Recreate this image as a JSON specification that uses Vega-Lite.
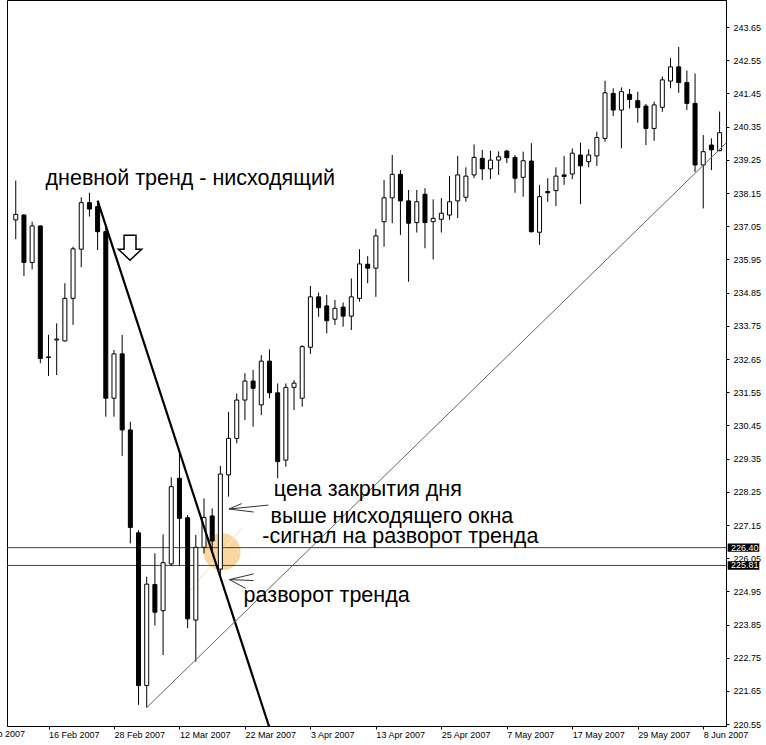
{
  "$schema": "https://vega.github.io/schema/vega-lite/v6.json",
  "width": 719,
  "height": 726,
  "autosize": {"type": "none"},
  "padding": {"left": 7, "top": 0, "right": 40, "bottom": 19},
  "background": "white",
  "config": {
    "view": {"stroke": "#000000", "strokeWidth": 1},
    "font": "Liberation Sans",
    "axis": {"labelFont": "Liberation Sans", "labelFontSize": 9, "labelColor": "#000000", "domainColor": "#000000", "tickColor": "#000000", "grid": false, "domainWidth": 1, "tickWidth": 1}
  },
  "datasets": {
    "candles": [
      {"d":"2007-02-12","i":-4,"o":237.26,"h":238.56,"l":236.62,"c":237.44},
      {"d":"2007-02-13","i":-3,"o":237.42,"h":237.45,"l":235.40,"c":235.85},
      {"d":"2007-02-14","i":-2,"o":235.85,"h":237.20,"l":235.62,"c":237.06},
      {"d":"2007-02-15","i":-1,"o":237.06,"h":237.08,"l":232.51,"c":232.67},
      {"d":"2007-02-16","i":0,"o":232.70,"h":233.45,"l":232.09,"c":232.72},
      {"d":"2007-02-19","i":1,"o":233.28,"h":233.83,"l":232.12,"c":233.31},
      {"d":"2007-02-20","i":2,"o":233.25,"h":235.16,"l":233.23,"c":234.66},
      {"d":"2007-02-21","i":3,"o":234.66,"h":236.37,"l":233.78,"c":236.30},
      {"d":"2007-02-22","i":4,"o":236.29,"h":238.01,"l":235.69,"c":237.83},
      {"d":"2007-02-23","i":5,"o":237.83,"h":238.16,"l":237.37,"c":237.62},
      {"d":"2007-02-26","i":6,"o":237.70,"h":237.86,"l":236.26,"c":236.87},
      {"d":"2007-02-27","i":7,"o":236.87,"h":237.03,"l":230.74,"c":231.35},
      {"d":"2007-02-28","i":8,"o":231.35,"h":232.95,"l":230.74,"c":232.82},
      {"d":"2007-03-01","i":9,"o":232.82,"h":233.45,"l":229.44,"c":230.30},
      {"d":"2007-03-02","i":10,"o":230.30,"h":230.57,"l":226.54,"c":227.07},
      {"d":"2007-03-05","i":11,"o":226.89,"h":226.98,"l":221.19,"c":221.83},
      {"d":"2007-03-06","i":12,"o":221.83,"h":225.44,"l":221.10,"c":225.19},
      {"d":"2007-03-07","i":13,"o":225.18,"h":226.21,"l":223.82,"c":224.26},
      {"d":"2007-03-08","i":14,"o":224.31,"h":226.84,"l":222.84,"c":225.90},
      {"d":"2007-03-09","i":15,"o":225.86,"h":228.73,"l":225.80,"c":228.42},
      {"d":"2007-03-12","i":16,"o":228.70,"h":229.53,"l":225.79,"c":227.37},
      {"d":"2007-03-13","i":17,"o":227.39,"h":227.48,"l":223.73,"c":224.04},
      {"d":"2007-03-14","i":18,"o":224.00,"h":226.82,"l":222.62,"c":226.41},
      {"d":"2007-03-15","i":19,"o":226.41,"h":228.03,"l":226.21,"c":227.40},
      {"d":"2007-03-16","i":20,"o":227.45,"h":227.70,"l":226.32,"c":226.62},
      {"d":"2007-03-19","i":21,"o":225.69,"h":229.11,"l":225.49,"c":228.84},
      {"d":"2007-03-20","i":22,"o":228.81,"h":230.90,"l":228.09,"c":230.02},
      {"d":"2007-03-21","i":23,"o":230.02,"h":231.51,"l":229.86,"c":231.29},
      {"d":"2007-03-22","i":24,"o":231.29,"h":232.18,"l":230.63,"c":231.92},
      {"d":"2007-03-23","i":25,"o":231.92,"h":232.29,"l":230.41,"c":231.68},
      {"d":"2007-03-26","i":26,"o":231.13,"h":232.78,"l":230.79,"c":232.58},
      {"d":"2007-03-27","i":27,"o":232.58,"h":232.97,"l":231.35,"c":231.53},
      {"d":"2007-03-28","i":28,"o":231.53,"h":231.84,"l":228.70,"c":229.25},
      {"d":"2007-03-29","i":29,"o":229.30,"h":231.84,"l":229.08,"c":231.71},
      {"d":"2007-03-30","i":30,"o":231.71,"h":231.95,"l":230.96,"c":231.85},
      {"d":"2007-04-02","i":31,"o":231.35,"h":233.11,"l":231.07,"c":233.06},
      {"d":"2007-04-03","i":32,"o":233.04,"h":235.07,"l":232.82,"c":234.71},
      {"d":"2007-04-04","i":33,"o":234.71,"h":234.85,"l":234.05,"c":234.35},
      {"d":"2007-04-05","i":34,"o":234.41,"h":234.77,"l":233.50,"c":233.92},
      {"d":"2007-04-06","i":35,"o":233.97,"h":234.61,"l":233.78,"c":234.33},
      {"d":"2007-04-09","i":36,"o":234.37,"h":234.52,"l":233.72,"c":234.07},
      {"d":"2007-04-10","i":37,"o":234.07,"h":235.32,"l":233.61,"c":234.71},
      {"d":"2007-04-11","i":38,"o":234.66,"h":236.29,"l":234.55,"c":235.80},
      {"d":"2007-04-12","i":39,"o":235.79,"h":236.06,"l":235.16,"c":235.66},
      {"d":"2007-04-13","i":40,"o":235.66,"h":236.96,"l":234.71,"c":236.73},
      {"d":"2007-04-16","i":41,"o":237.20,"h":238.58,"l":236.37,"c":237.99},
      {"d":"2007-04-17","i":42,"o":237.99,"h":239.41,"l":237.15,"c":238.77},
      {"d":"2007-04-18","i":43,"o":238.77,"h":238.91,"l":236.76,"c":237.89},
      {"d":"2007-04-19","i":44,"o":237.89,"h":238.25,"l":235.21,"c":237.15},
      {"d":"2007-04-20","i":45,"o":237.17,"h":238.25,"l":236.84,"c":237.86},
      {"d":"2007-04-23","i":46,"o":238.11,"h":238.31,"l":236.32,"c":237.17},
      {"d":"2007-04-24","i":47,"o":237.20,"h":237.94,"l":235.95,"c":237.31},
      {"d":"2007-04-25","i":48,"o":237.28,"h":237.98,"l":236.84,"c":237.48},
      {"d":"2007-04-26","i":49,"o":237.42,"h":238.71,"l":237.26,"c":237.86},
      {"d":"2007-04-27","i":50,"o":237.89,"h":239.38,"l":237.32,"c":238.75},
      {"d":"2007-04-30","i":51,"o":238.01,"h":239.00,"l":237.86,"c":238.71},
      {"d":"2007-05-01","i":52,"o":238.75,"h":239.76,"l":238.64,"c":239.33},
      {"d":"2007-05-02","i":53,"o":239.30,"h":239.58,"l":238.58,"c":238.95},
      {"d":"2007-05-03","i":54,"o":238.95,"h":239.55,"l":238.61,"c":239.24},
      {"d":"2007-05-04","i":55,"o":239.24,"h":239.53,"l":238.75,"c":239.35},
      {"d":"2007-05-07","i":56,"o":239.54,"h":239.58,"l":239.14,"c":239.32},
      {"d":"2007-05-08","i":57,"o":239.33,"h":239.41,"l":238.16,"c":238.64},
      {"d":"2007-05-09","i":58,"o":238.67,"h":239.52,"l":238.03,"c":239.22},
      {"d":"2007-05-10","i":59,"o":239.21,"h":239.80,"l":236.84,"c":236.87},
      {"d":"2007-05-11","i":60,"o":236.85,"h":238.42,"l":236.43,"c":238.03},
      {"d":"2007-05-14","i":61,"o":238.20,"h":238.64,"l":237.86,"c":238.16},
      {"d":"2007-05-15","i":62,"o":238.23,"h":239.00,"l":237.72,"c":238.71},
      {"d":"2007-05-16","i":63,"o":238.75,"h":239.38,"l":238.42,"c":238.70},
      {"d":"2007-05-17","i":64,"o":238.78,"h":239.63,"l":238.61,"c":239.47},
      {"d":"2007-05-18","i":65,"o":239.41,"h":239.82,"l":237.78,"c":239.05},
      {"d":"2007-05-21","i":66,"o":239.19,"h":239.60,"l":239.00,"c":239.41},
      {"d":"2007-05-22","i":67,"o":239.38,"h":240.18,"l":239.05,"c":239.99},
      {"d":"2007-05-23","i":68,"o":239.96,"h":241.87,"l":239.85,"c":241.47},
      {"d":"2007-05-24","i":69,"o":241.45,"h":241.62,"l":240.70,"c":240.90},
      {"d":"2007-05-25","i":70,"o":240.90,"h":241.65,"l":239.63,"c":241.51},
      {"d":"2007-05-28","i":71,"o":241.42,"h":241.60,"l":240.95,"c":241.25},
      {"d":"2007-05-29","i":72,"o":241.21,"h":241.51,"l":240.48,"c":240.98},
      {"d":"2007-05-30","i":73,"o":241.03,"h":241.10,"l":239.74,"c":240.29},
      {"d":"2007-05-31","i":74,"o":240.29,"h":241.18,"l":239.88,"c":241.07},
      {"d":"2007-06-01","i":75,"o":240.99,"h":242.01,"l":240.84,"c":241.90},
      {"d":"2007-06-04","i":76,"o":241.86,"h":242.63,"l":241.62,"c":242.33},
      {"d":"2007-06-05","i":77,"o":242.33,"h":242.99,"l":241.47,"c":241.81},
      {"d":"2007-06-06","i":78,"o":241.81,"h":242.21,"l":240.90,"c":241.12},
      {"d":"2007-06-07","i":79,"o":241.12,"h":242.11,"l":238.85,"c":239.08},
      {"d":"2007-06-08","i":80,"o":239.08,"h":240.07,"l":237.64,"c":239.52},
      {"d":"2007-06-11","i":81,"o":239.74,"h":239.96,"l":238.91,"c":239.58},
      {"d":"2007-06-12","i":82,"o":239.55,"h":240.85,"l":239.55,"c":240.15}
    ],
    "hlines": [
      {"p": 226.40, "label": "226.40"},
      {"p": 225.81, "label": "225.81"}
    ],
    "trendDown": [
      {"i": 6, "p": 237.90},
      {"i": 28, "p": 219.60}
    ],
    "trendUp": [
      {"i": 12, "p": 221.10},
      {"i": 83, "p": 239.86}
    ],
    "glowLine": [
      {"i": 17.19, "p": 224.94},
      {"i": 23.61, "p": 227.04}
    ],
    "glow": [
      {"i": 21.2, "p": 226.26}
    ],
    "arrows": [
      {"g": "a1", "k": 0, "i": 26.87, "p": 227.81},
      {"g": "a1", "k": 1, "i": 22.05, "p": 227.68},
      {"g": "a2", "k": 0, "i": 23.61, "p": 227.86},
      {"g": "a2", "k": 1, "i": 22.05, "p": 227.68},
      {"g": "a2", "k": 2, "i": 25.06, "p": 227.58},
      {"g": "b1", "k": 0, "i": 25.06, "p": 225.53},
      {"g": "b1", "k": 1, "i": 22.11, "p": 225.34},
      {"g": "b1", "k": 2, "i": 24.10, "p": 225.05},
      {"g": "b2", "k": 0, "i": 22.11, "p": 225.34},
      {"g": "b2", "k": 1, "i": 25.06, "p": 225.31}
    ],
    "icon": [
      {"i": 9.96, "p": 236.34}
    ],
    "notes": [
      {"t": "дневной тренд - нисходящий", "i": -0.36, "p": 238.42},
      {"t": "цена закрытия дня", "i": 27.53, "p": 228.11},
      {"t": "выше нисходящего окна", "i": 27.13, "p": 227.21},
      {"t": "-сигнал на разворот тренда", "i": 26.13, "p": 226.56},
      {"t": "разворот тренда", "i": 23.84, "p": 224.61}
    ],
    "edgeLabel": [
      {"i": -8, "label": "6 Feb 2007"}
    ]
  },
  "encoding": {
    "x": {
      "field": "i",
      "type": "quantitative",
      "title": null,
      "scale": {"domain": [-4.46, 82.17], "nice": false, "zero": false},
      "axis": {
        "values": [0, 8, 16, 24, 32, 40, 48, 56, 64, 72, 80],
        "labelExpr": "['16 Feb 2007','28 Feb 2007','12 Mar 2007','22 Mar 2007','3 Apr 2007','13 Apr 2007','25 Apr 2007','7 May 2007','17 May 2007','29 May 2007','8 Jun 2007'][datum.value / 8]",
        "labelAlign": "left",
        "labelBaseline": "top",
        "labelDx": 0,
        "labelPadding": 1,
        "tickSize": 3,
        "labelOverlap": false,
        "labelFlush": false,
        "labelBound": false
      }
    },
    "y": {
      "field": "p",
      "type": "quantitative",
      "title": null,
      "scale": {"domain": [220.49, 244.546], "nice": false, "zero": false},
      "axis": {
        "orient": "right",
        "values": [220.55, 221.65, 222.75, 223.85, 224.95, 226.05, 227.15, 228.25, 229.35, 230.45, 231.55, 232.65, 233.75, 234.85, 235.95, 237.05, 238.15, 239.25, 240.35, 241.45, 242.55, 243.65],
        "format": ".2f",
        "tickSize": 3,
        "labelPadding": 4,
        "labelOverlap": false,
        "labelFlush": false,
        "labelBaseline": "middle"
      }
    }
  },
  "layer": [
    {
      "data": {"name": "glow"},
      "mark": {"type": "point", "shape": "circle", "filled": true, "size": 1385, "fill": "#F9D6A2", "opacity": 1, "strokeWidth": 0}
    },
    {
      "data": {"name": "glowLine"},
      "mark": {"type": "line", "stroke": "#FCE7CC", "strokeWidth": 1.2}
    },
    {
      "data": {"name": "hlines"},
      "mark": {"type": "rule", "stroke": "#444444", "strokeWidth": 1},
      "encoding": {"x": {"value": 0}, "x2": {"value": "width"}}
    },
    {
      "data": {"name": "candles"},
      "mark": {"type": "rule", "stroke": "#000000", "strokeWidth": 1},
      "encoding": {
        "y": {"field": "l", "type": "quantitative", "title": null},
        "y2": {"field": "h"}
      }
    },
    {
      "data": {"name": "candles"},
      "mark": {"type": "bar", "size": 4, "stroke": "#000000", "strokeWidth": 1},
      "encoding": {
        "y": {"field": "o", "type": "quantitative", "title": null},
        "y2": {"field": "c"},
        "fill": {"condition": {"test": "datum.c < datum.o", "value": "#000000"}, "value": "#ffffff"}
      }
    },
    {
      "data": {"name": "trendDown"},
      "mark": {"type": "line", "stroke": "#000000", "strokeWidth": 2.2, "clip": true}
    },
    {
      "data": {"name": "trendUp"},
      "mark": {"type": "line", "stroke": "#666666", "strokeWidth": 1, "clip": true}
    },
    {
      "data": {"name": "arrows"},
      "mark": {"type": "line", "stroke": "#333333", "strokeWidth": 1},
      "encoding": {
        "detail": {"field": "g"},
        "order": {"field": "k"}
      }
    },
    {
      "data": {"name": "icon"},
      "mark": {"type": "point", "shape": "M-0.51,-1.07L0.51,-1.07L0.51,0.13L1,0.13L0,1.07L-1,0.13L-0.51,0.13Z", "size": 548, "filled": true, "fill": "#ffffff", "stroke": "#000000", "strokeWidth": 1.5, "opacity": 1}
    },
    {
      "data": {"name": "notes"},
      "mark": {"type": "text", "align": "left", "baseline": "alphabetic", "font": "Liberation Sans", "fontSize": 21.5, "color": "#000000"},
      "encoding": {"text": {"field": "t"}}
    },
    {
      "data": {"name": "edgeLabel"},
      "mark": {"type": "text", "align": "right", "baseline": "top", "dx": 18, "dy": 4, "font": "Liberation Sans", "fontSize": 9, "color": "#000000"},
      "encoding": {"x": {"value": 0}, "y": {"value": "height"}, "text": {"field": "label"}}
    },
    {
      "data": {"name": "hlines"},
      "mark": {"type": "point", "shape": "M0.17,-0.42L3.33,-0.42L3.33,0.42L0.17,0.42Z", "size": 400, "filled": true, "fill": "#000000", "strokeWidth": 0, "opacity": 1},
      "encoding": {"x": {"value": "width"}}
    },
    {
      "data": {"name": "hlines"},
      "mark": {"type": "text", "align": "left", "baseline": "middle", "dx": 5, "font": "Liberation Sans", "fontSize": 9, "color": "#ffffff"},
      "encoding": {"x": {"value": "width"}, "text": {"field": "label"}}
    }
  ]
}
